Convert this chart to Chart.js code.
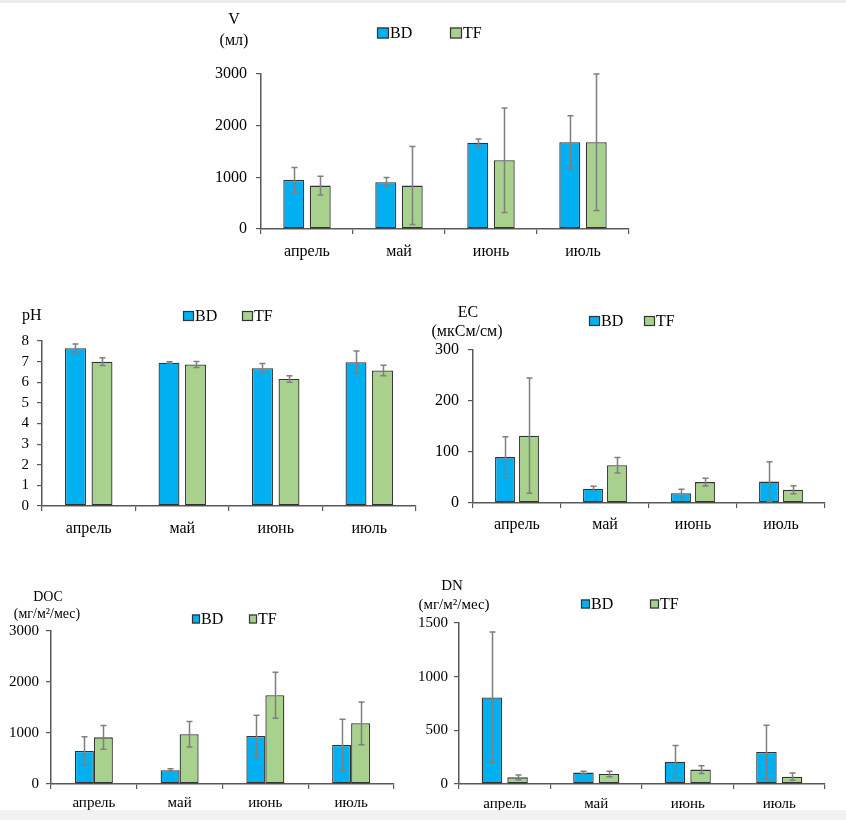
<!DOCTYPE html>
<html>
<head>
<meta charset="utf-8">
<script src="https://cdn.jsdelivr.net/npm/chart.js@4"></script>
<style>
  html, body { margin:0; padding:0; background:#ffffff; }
  #page { position:relative; width:846px; height:820px; overflow:hidden; background:#ffffff; }
  .strip { position:absolute; left:0; width:846px; }
  canvas { position:absolute; left:0; top:0; }
</style>
</head>
<body>
<div id="page">
  <div class="strip" style="top:0;height:3px;background:#e9ebef;"></div>
  <div class="strip" style="top:810px;height:10px;background:#f2f2f2;"></div>
  <canvas id="cV" width="846" height="820"></canvas>
  <canvas id="cPH" width="846" height="820"></canvas>
  <canvas id="cEC" width="846" height="820"></canvas>
  <canvas id="cDOC" width="846" height="820"></canvas>
  <canvas id="cDN" width="846" height="820"></canvas>
</div>
<script>
// ---------- data ----------
const months = ['апрель', 'май', 'июнь', 'июль'];
const seriesNames = ['BD', 'TF'];

const titleV = ['V', '(мл)'];
const vBD = [950, 905, 1670, 1680];
const vBDerr = [240, 90, 70, 510];
const vTF = [840, 840, 1330, 1680];
const vTFerr = [180, 755, 1010, 1320];
const vTicks = [0, 1000, 2000, 3000];

const titlePH = ['pH'];
const phBD = [7.65, 6.95, 6.68, 6.97];
const phBDerr = [0.2, 0.04, 0.23, 0.55];
const phTF = [7.0, 6.86, 6.16, 6.57];
const phTFerr = [0.19, 0.15, 0.16, 0.26];
const phTicks = [0, 1, 2, 3, 4, 5, 6, 7, 8];

const titleEC = ['EC', '(мкСм/см)'];
const ecBD = [90, 28, 19, 42];
const ecBDerr = [40, 5, 8, 39];
const ecTF = [132, 74, 41, 26];
const ecTFerr = [113, 15, 7.5, 8];
const ecTicks = [0, 100, 200, 300];

const titleDOC = ['DOC', '(мг/м²/мес)'];
const docBD = [647, 272, 941, 765];
const docBDerr = [280, 28, 405, 505];
const docTF = [915, 975, 1740, 1190];
const docTFerr = [232, 250, 450, 420];
const docTicks = [0, 1000, 2000, 3000];

const titleDN = ['DN', '(мг/м²/мес)'];
const dnBD = [807, 106, 208, 298];
const dnBDerr = [610, 12, 150, 250];
const dnTF = [62, 93, 134, 68];
const dnTFerr = [22, 25, 36, 34];
const dnTicks = [0, 500, 1000, 1500];

// ---------- styles ----------
const FONT = "'Liberation Serif', 'Times New Roman', serif";
const BLUE = '#00b0f0';
const GREEN = '#a9d18e';
const EDGE = '#333333';
const AXIS = '#595959';
const ERR = '#7f7f7f';
const W = 846, H = 820;

const decoPlugin = {
  id: 'deco',
  afterDatasetsDraw(chart, args, opts) {
    const ctx = chart.ctx;
    const ys = chart.scales.y;
    ctx.save();
    ctx.strokeStyle = ERR;
    ctx.lineWidth = 1.5;
    chart.data.datasets.forEach((ds, di) => {
      const meta = chart.getDatasetMeta(di);
      meta.data.forEach((bar, i) => {
        const v = ds.data[i], e = ds.errors[i];
        const yt = ys.getPixelForValue(v + e);
        const yb = ys.getPixelForValue(Math.max(v - e, 0));
        const x = Math.round(bar.x) + 0.5;
        const cw = 3;
        ctx.beginPath();
        ctx.moveTo(x, yt); ctx.lineTo(x, yb);
        ctx.moveTo(x - cw, yt); ctx.lineTo(x + cw, yt);
        ctx.moveTo(x - cw, yb); ctx.lineTo(x + cw, yb);
        ctx.stroke();
      });
    });
    ctx.restore();
  },
  afterDraw(chart, args, opts) {
    const ctx = chart.ctx;
    ctx.save();
    ctx.fillStyle = '#000';
    ctx.textBaseline = 'middle';
    (opts.titles || []).forEach(t => {
      ctx.font = t.size + 'px ' + FONT;
      ctx.textAlign = t.align || 'center';
      ctx.fillText(t.text, t.x, t.y);
    });
    const lg = opts.legend;
    if (lg) {
      chart.data.datasets.forEach((ds, di) => {
        const bx = lg.xs[di];
        ctx.fillStyle = ds.backgroundColor;
        ctx.fillRect(bx, lg.y - lg.bh / 2, lg.bw, lg.bh);
        ctx.strokeStyle = EDGE;
        ctx.lineWidth = 1.2;
        ctx.strokeRect(bx + 0.5, lg.y - lg.bh / 2 + 0.5, lg.bw - 1, lg.bh - 1);
        ctx.fillStyle = '#000';
        ctx.font = lg.size + 'px ' + FONT;
        ctx.textAlign = 'left';
        ctx.fillText(ds.label, bx + lg.bw + 1, lg.y + 1);
      });
    }
    ctx.restore();
  }
};

function makeChart(id, p) {
  const datasets = [
    { label: seriesNames[0], data: p.bd, errors: p.bdErr, backgroundColor: BLUE },
    { label: seriesNames[1], data: p.tf, errors: p.tfErr, backgroundColor: GREEN }
  ].map(d => Object.assign(d, {
    borderColor: EDGE, borderWidth: 1.3, borderSkipped: false,
    categoryPercentage: p.cat, barPercentage: p.bar
  }));
  return new Chart(document.getElementById(id), {
    type: 'bar',
    data: { labels: months, datasets },
    plugins: [decoPlugin],
    options: {
      responsive: false,
      animation: false,
      devicePixelRatio: 1,
      layout: { padding: { left: p.L - p.yW, right: W - p.R, top: p.T, bottom: H - p.B - p.xH } },
      plugins: {
        legend: { display: false },
        tooltip: { enabled: false },
        deco: { titles: p.titles, legend: p.legend }
      },
      scales: {
        x: {
          grid: { offset: true, drawOnChartArea: false, drawTicks: true, tickLength: 5, color: AXIS, lineWidth: 1.2 },
          border: { display: true, color: AXIS, width: 1.5 },
          ticks: { font: { family: FONT, size: p.xFont }, color: '#000', padding: p.xPad, maxRotation: 0, autoSkip: false },
          afterFit(s) { s.height = p.xH; }
        },
        y: {
          min: p.ticks[0], max: p.ticks[p.ticks.length - 1],
          afterBuildTicks(s) { s.ticks = p.ticks.map(v => ({ value: v })); },
          grid: { drawOnChartArea: false, drawTicks: true, tickLength: 5, color: AXIS, lineWidth: 1.2 },
          border: { display: true, color: AXIS, width: 1.5 },
          ticks: {
            font: { family: FONT, size: p.yFont }, color: '#000', padding: p.yPad,
            autoSkip: false, callback: v => String(v)
          },
          afterFit(s) { s.width = p.yW; }
        }
      }
    }
  });
}

makeChart('cV', {
  bd: vBD, bdErr: vBDerr, tf: vTF, tfErr: vTFerr, ticks: vTicks,
  L: 261, R: 629, T: 74, B: 229, yW: 60, xH: 40,
  cat: 0.576, bar: 0.79, xFont: 16, yFont: 16, xPad: 8, yPad: 9,
  titles: [{ text: titleV[0], x: 234, y: 20, size: 16 }, { text: titleV[1], x: 234, y: 41, size: 16 }],
  legend: { xs: [377, 450], y: 33, bw: 12, bh: 11, size: 16 }
});

makeChart('cPH', {
  bd: phBD, bdErr: phBDerr, tf: phTF, tfErr: phTFerr, ticks: phTicks,
  L: 42, R: 416, T: 341, B: 506, yW: 40, xH: 40,
  cat: 0.567, bar: 0.79, xFont: 16, yFont: 15, xPad: 8, yPad: 8,
  titles: [{ text: titlePH[0], x: 22, y: 316, size: 16, align: 'left' }],
  legend: { xs: [183, 242], y: 316, bw: 11, bh: 10, size: 16 }
});

makeChart('cEC', {
  bd: ecBD, bdErr: ecBDerr, tf: ecTF, tfErr: ecTFerr, ticks: ecTicks,
  L: 473, R: 825, T: 350, B: 503, yW: 50, xH: 40,
  cat: 0.545, bar: 0.83, xFont: 16, yFont: 16, xPad: 7, yPad: 9,
  titles: [{ text: titleEC[0], x: 468, y: 313, size: 16 }, { text: titleEC[1], x: 467, y: 332, size: 16 }],
  legend: { xs: [589, 644], y: 321, bw: 11, bh: 10, size: 16 }
});

makeChart('cDOC', {
  bd: docBD, bdErr: docBDerr, tf: docTF, tfErr: docTFerr, ticks: docTicks,
  L: 51, R: 394, T: 631, B: 784, yW: 48, xH: 26,
  cat: 0.443, bar: 1.0, xFont: 15, yFont: 15, xPad: 5, yPad: 7,
  titles: [{ text: titleDOC[0], x: 48, y: 597, size: 14 }, { text: titleDOC[1], x: 47, y: 614, size: 14 }],
  legend: { xs: [192, 249], y: 619, bw: 8, bh: 9, size: 16 }
});

makeChart('cDN', {
  bd: dnBD, bdErr: dnBDerr, tf: dnTF, tfErr: dnTFerr, ticks: dnTicks,
  L: 459, R: 825, T: 623, B: 784, yW: 50, xH: 26,
  cat: 0.56, bar: 0.8, xFont: 15, yFont: 15, xPad: 6, yPad: 6,
  titles: [{ text: titleDN[0], x: 452, y: 586, size: 15 }, { text: titleDN[1], x: 454, y: 605, size: 15 }],
  legend: { xs: [581, 650], y: 604, bw: 9, bh: 9, size: 16 }
});
</script>
</body>
</html>
